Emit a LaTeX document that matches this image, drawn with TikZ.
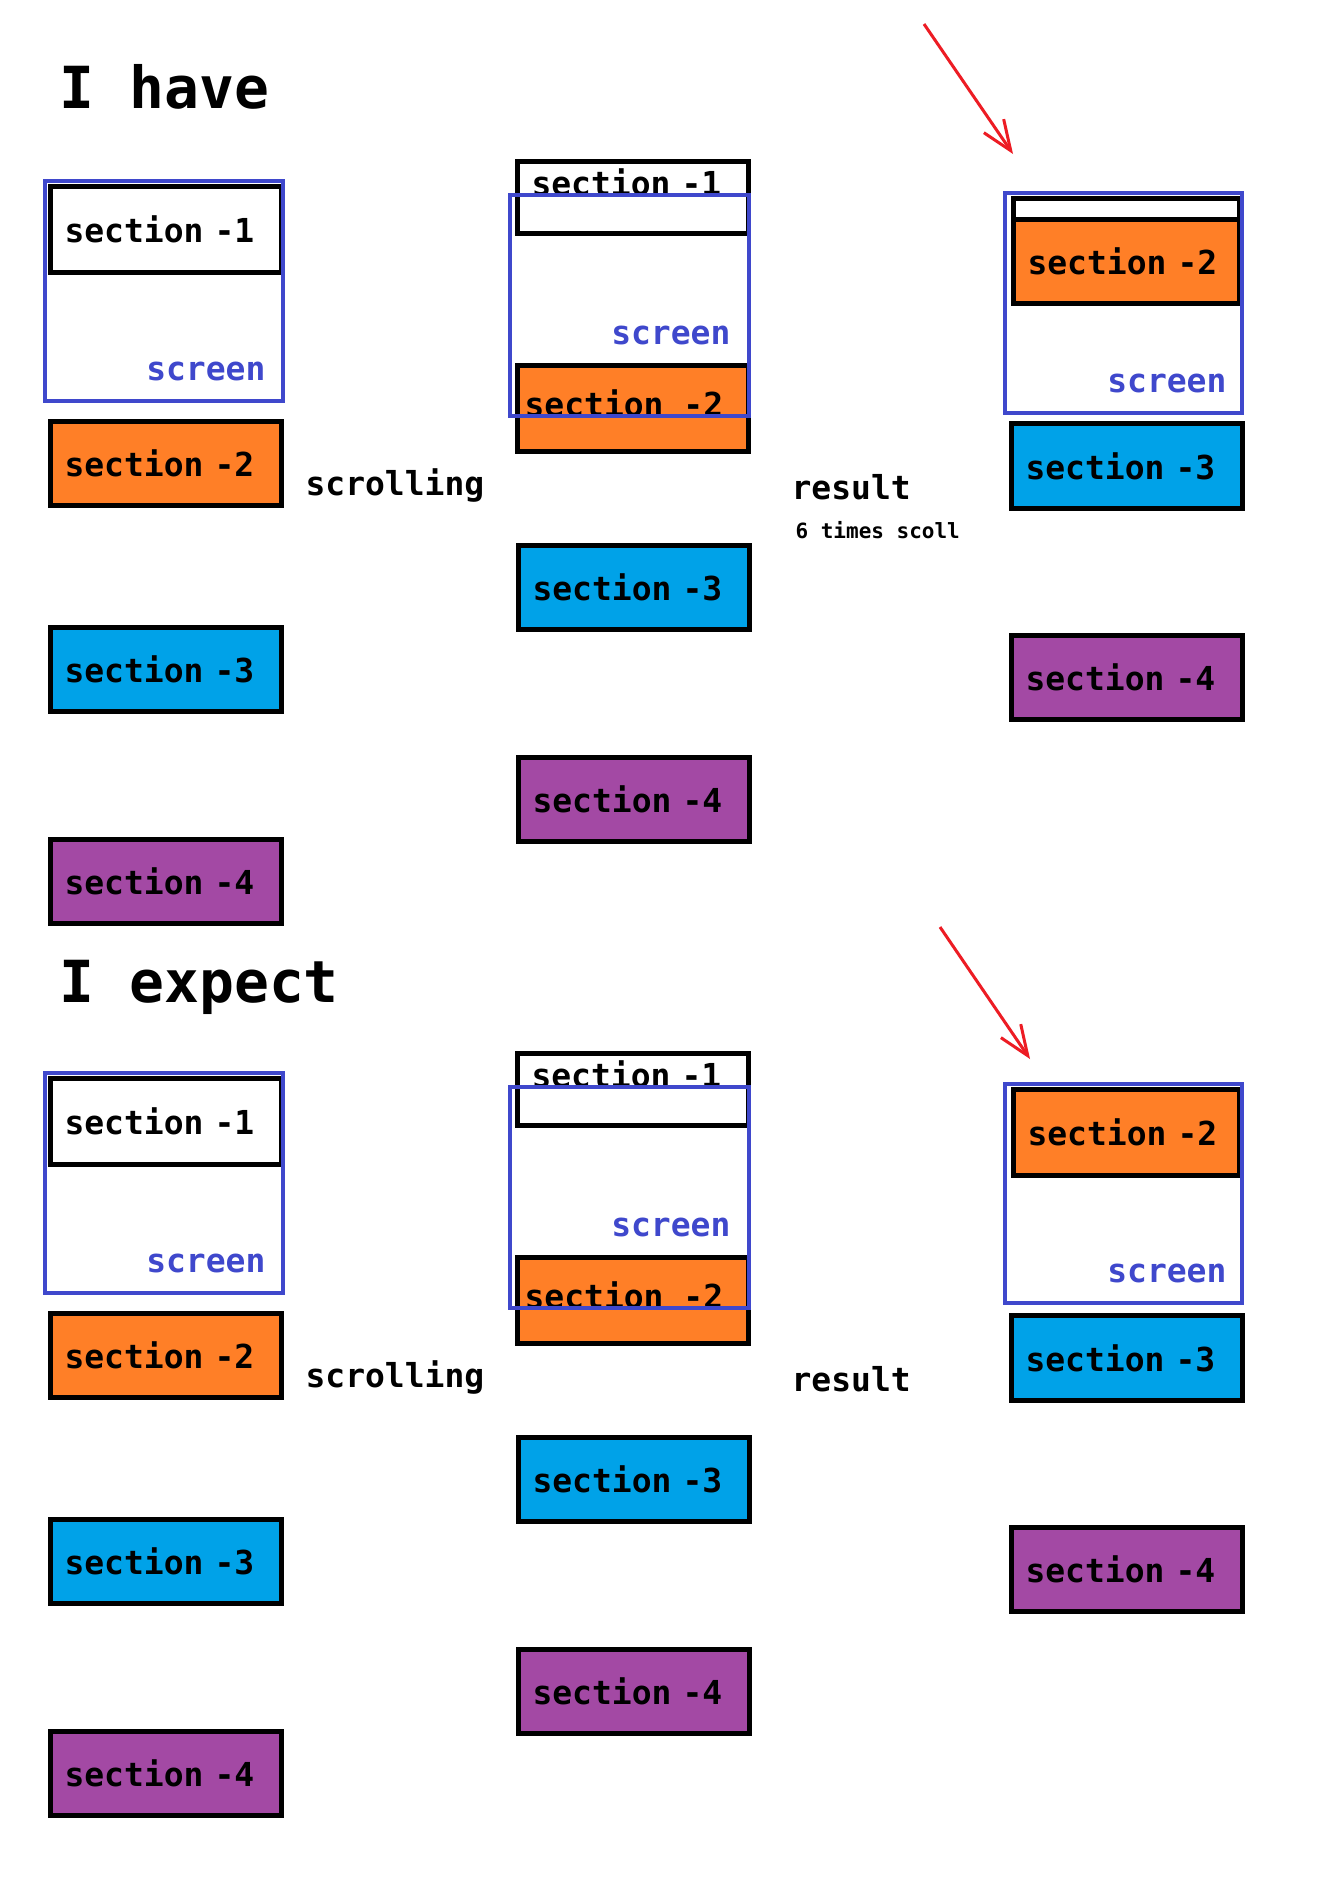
\documentclass[tikz,border=0pt]{standalone}
\usepackage{fontspec}
\setmonofont{DejaVu Sans Mono}
\usetikzlibrary{arrows.meta}
\definecolor{orng}{HTML}{FF7F27}
\definecolor{cyanb}{HTML}{00A2E8}
\definecolor{purp}{HTML}{A349A4}
\definecolor{scrb}{HTML}{3F48CC}
\definecolor{redA}{HTML}{ED1C24}
\tikzset{
  sec/.style={draw=black, line width=5pt, anchor=north west, minimum height=84pt,
    text width=203pt, inner xsep=14pt, inner ysep=0pt, align=left,
    font=\ttfamily\bfseries\fontsize{33}{33}\selectfont},
  narrow/.style={text width=198pt},
  scr/.style={draw=scrb, line width=4.5pt},
  scrtxt/.style={text=scrb, anchor=east, font=\ttfamily\bfseries\fontsize{33}{33}\selectfont},
  lbl/.style={anchor=west, font=\ttfamily\bfseries\fontsize{33}{33}\selectfont},
  ttl/.style={anchor=west, font=\ttfamily\bfseries\fontsize{58}{58}\selectfont},
  small/.style={anchor=west, font=\ttfamily\bfseries\fontsize{21}{21}\selectfont},
  redarrow/.style={draw=redA, line width=3pt, -{Straight Barb[length=30pt,width=24pt,line width=3pt]}}
}
\begin{document}
\begin{tikzpicture}[x=1pt,y=-1pt]
\useasboundingbox[fill=white] (0,0) rectangle (1324,1888);
\foreach \off/\pre in {0/a,892/b}{
  % column 1
  \node[sec, fill=white, minimum height=86pt] (\pre s1) at (48,184+\off) {section -1};
  \node[sec, fill=orng] (\pre s2) at (48,419+\off) {section -2};
  \node[sec, fill=cyanb] (\pre s3) at (48,625+\off) {section -3};
  \node[sec, fill=purp] (\pre s4) at (48,837+\off) {section -4};
  \draw[scr] (45,181+\off) rectangle (283,401+\off);
  \node[scrtxt] (\pre t1) at (269,371+\off) {screen};
  \node[lbl] (\pre scroll) at (302,485+\off) {scrolling};
  % column 2
  \node[sec, fill=white, minimum height=72pt, anchor=north west, text depth=30pt] (\pre m1) at (515,159+\off) {section -1};
  \node[sec, fill=orng, minimum height=86pt] (\pre m2) at (515,363+\off) {};
  \node[lbl, anchor=west] (\pre m2t) at (521,403+\off) {section -2};
  \node[sec, fill=cyanb] (\pre m3) at (516,543+\off) {section -3};
  \node[sec, fill=purp] (\pre m4) at (516,755+\off) {section -4};
  \draw[scr] (510,195+\off) rectangle (749,416+\off);
  \node[scrtxt] (\pre t2) at (734,335+\off) {screen};
  \node[lbl] (\pre res) at (788,487+\off) {result};
  % column 3
  \node[sec, fill=cyanb, minimum height=85pt] (\pre r3) at (1009,421+\off) {section -3};
  \node[sec, fill=purp] (\pre r4) at (1009,633+\off) {section -4};
}
% top column 3
\node[sec, narrow, fill=white, minimum height=22pt] (ar1) at (1011,196) {};
\node[sec, narrow, fill=orng] (ar2) at (1011,217) {section -2};
\draw[scr] (1005,193) rectangle (1242,413);
\node[scrtxt] (art) at (1230,383) {screen};
\node[small] (times) at (792,530) {6 times scoll};
% bottom column 3
\node[sec, narrow, fill=orng, minimum height=86pt] (br2) at (1011,1087) {section -2};
\draw[scr] (1005,1084) rectangle (1242,1303);
\node[scrtxt] (brt) at (1230,1273) {screen};
% titles
\node[ttl] (have) at (56,87) {I have};
\node[ttl] (expect) at (56,987) {I expect};
% arrows
\coordinate (a0) at (924,24); \coordinate (a1) at (1013,154);
\coordinate (b0) at (940,927); \coordinate (b1) at (1030,1059);
\draw[redarrow] (a0) -- (a1);
\draw[redarrow] (b0) -- (b1);
\end{tikzpicture}
\end{document}
